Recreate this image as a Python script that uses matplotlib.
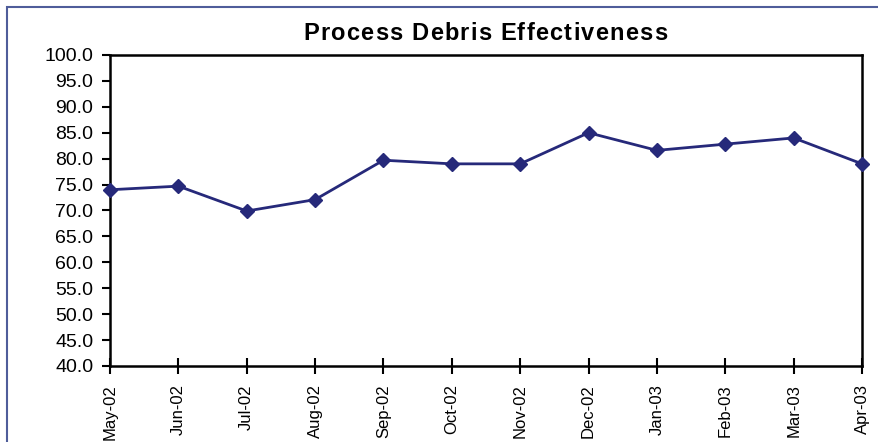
import numpy as np
import matplotlib.pyplot as plt
from matplotlib.patches import Rectangle

months = ['May-02', 'Jun-02', 'Jul-02', 'Aug-02', 'Sep-02', 'Oct-02',
          'Nov-02', 'Dec-02', 'Jan-03', 'Feb-03', 'Mar-03', 'Apr-03']
effectiveness = [74.0, 74.7, 69.9, 72.1, 79.7, 79.0,
                 79.0, 85.0, 81.6, 82.8, 84.0, 79.0]
y_ticks = np.arange(40, 100.1, 5)
title = 'Process Debris Effectiveness'

plt.rcParams['font.family'] = ['Liberation Sans', 'DejaVu Sans']

fig = plt.figure(figsize=(8.79, 4.42), dpi=100)
ax = fig.add_axes([110 / 879, 1 - 366 / 442, 752 / 879, 311 / 442])

# outer chart border (runs off the right and bottom edges)
fig.patches.append(Rectangle((7 / 879, -0.1), 1.1, 1 - 7 / 442 + 0.1,
                             transform=fig.transFigure, fill=False,
                             edgecolor='#4f5d9a', linewidth=1.5))

x = np.arange(len(months))
ax.plot(x, effectiveness, color='#26297a', linewidth=2, marker='D',
        markersize=7.5, clip_on=False, zorder=3)

ax.set_xlim(0, len(months) - 1)
ax.set_ylim(40, 100)
ax.set_yticks(y_ticks)
ax.set_yticklabels(['%.1f' % v for v in y_ticks], fontsize=14)
ax.set_xticks(x)
ax.set_xticklabels(months, rotation=90, fontsize=12)

for s in ax.spines.values():
    s.set_linewidth(1.8)
    s.set_color('black')
ax.tick_params(axis='y', direction='out', length=6, width=1.5, pad=6)
ax.tick_params(axis='x', direction='inout', length=12, width=1.5, pad=7)

# title with a little letter spacing, one character at a time
renderer = fig.canvas.get_renderer()
widths = []
for ch in title:
    t = fig.text(0, 0, ch if ch != ' ' else 'n', fontsize=17, fontweight='bold')
    w = t.get_window_extent(renderer).width
    widths.append(w * 0.455 if ch == ' ' else w)
    t.remove()
target = 364
gap = (target - sum(widths)) / (len(title) - 1)
xpos = 303
for ch, w in zip(title, widths):
    fig.text(xpos / 879, 1 - 34 / 442, ch, ha='left', va='center',
             fontsize=17, fontweight='bold')
    xpos += w + gap

fig.savefig('out.png', dpi=100)
